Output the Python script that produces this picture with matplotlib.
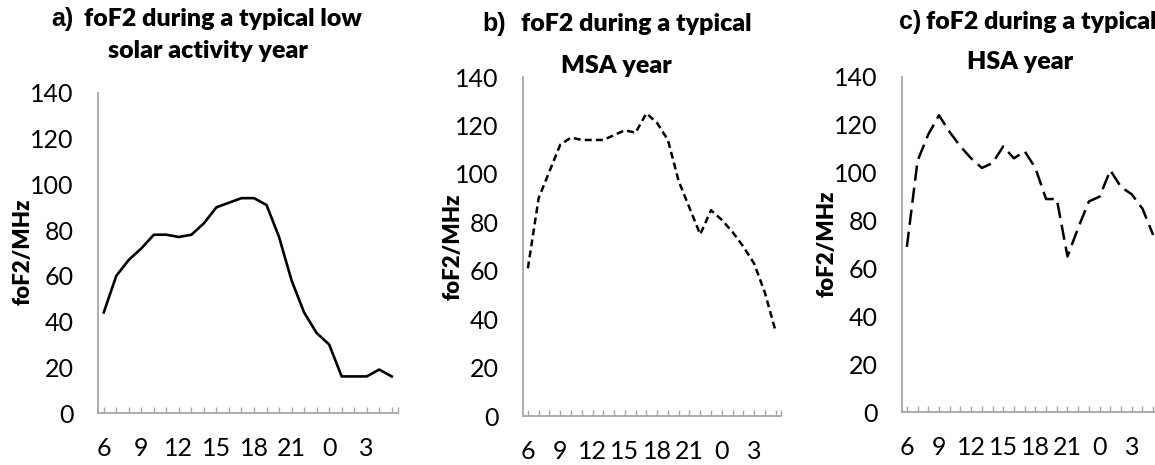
import matplotlib
matplotlib.use("Agg")
import matplotlib.pyplot as plt

plt.rcParams['font.family'] = ['Lato', 'DejaVu Sans']
plt.rcParams['lines.scale_dashes'] = False

# local time, 06 h to 05 h next day
hours = list(range(6, 24)) + list(range(0, 6))

fof2_low = [44, 60, 67, 72, 78, 78, 77, 78, 83, 90, 92, 94,
            94, 91, 77, 58, 44, 35, 30, 16, 16, 16, 19, 16]
fof2_msa = [61, 90, 101, 112, 115, 114, 114, 114, 116, 118, 117, 125,
            121, 114, 97, 86, 75, 85, 81, 76, 70, 63, 51, 35]
fof2_hsa = [69, 105, 116, 124, 117, 111, 106, 102, 104, 111, 106, 109,
            102, 89, 89, 65, 77, 88, 90, 101, 94, 91, 85, 74]

W, H = 1155, 465
fig = plt.figure(figsize=(W / 100, H / 100), dpi=100)

def px_box(x0, x1, y_top, y_bot):
    return [x0 / W, 1 - y_bot / H, (x1 - x0) / W, (y_bot - y_top) / H]

def ftext(x, y, s, **kw):
    fig.text(x / W, 1 - y / H, s, **kw)

grey = '#a6a6a6'
panels = [
    (px_box(97.5, 398, 93, 413), fof2_low, '-', 1.9, (23, 252), 17),
    (px_box(522.5, 781, 77, 416), fof2_msa, (0, (5, 3)), 1.8, (453, 247), 17),
    (px_box(901.5, 1158.5, 77, 412), fof2_hsa, (0, (11, 5)), 1.8, (827, 244), 17),
]

x = list(range(len(hours)))
labels = [str(h) if i % 3 == 0 else '' for i, h in enumerate(hours)]

for box, vals, ls, lw, (lx, ly), xpad in panels:
    ax = fig.add_axes(box)
    ax.plot(x, vals, color='black', linestyle=ls, linewidth=lw,
            solid_joinstyle='round', dash_capstyle='butt')
    ax.set_xlim(-0.5, 23.5)
    ax.set_ylim(0, 140)
    ax.set_yticks(range(0, 141, 20))
    ax.set_xticks(x)
    ax.set_xticklabels(labels)
    ax.set_xticks([23.5], minor=True)
    for s in ['top', 'right']:
        ax.spines[s].set_visible(False)
    for s in ['left', 'bottom']:
        ax.spines[s].set_color(grey)
        ax.spines[s].set_linewidth(1.3)
    ax.tick_params(axis='x', which='both', direction='in', length=4,
                   width=1, color=grey, pad=xpad, labelsize=18)
    ax.tick_params(axis='y', length=0, pad=17, labelsize=18)
    ftext(lx, ly, 'foF2/MHz', rotation=90, ha='center', va='center',
          fontsize=16, fontweight='heavy')

# titles
tf = dict(fontsize=18, fontweight='heavy', va='center')
lf = dict(fontsize=18, fontweight='bold', va='center', ha='right',
          family=['Liberation Sans', 'DejaVu Sans'])

ftext(74, 19, 'a)', **lf)
ftext(84, 19, 'foF2 during a typical low', ha='left', **tf)
ftext(208, 51, 'solar activity year', ha='center', **tf)

ftext(506, 24, 'b)', **lf)
ftext(521, 24, 'foF2 during a typical', ha='left', **tf)
ftext(616, 66, 'MSA year', ha='center', **tf)

ftext(921, 22, 'c)', **lf)
ftext(926, 22, 'foF2 during a typical', ha='left', **tf)
ftext(1020, 62, 'HSA year', ha='center', **tf)

fig.savefig('out.png', dpi=100)
